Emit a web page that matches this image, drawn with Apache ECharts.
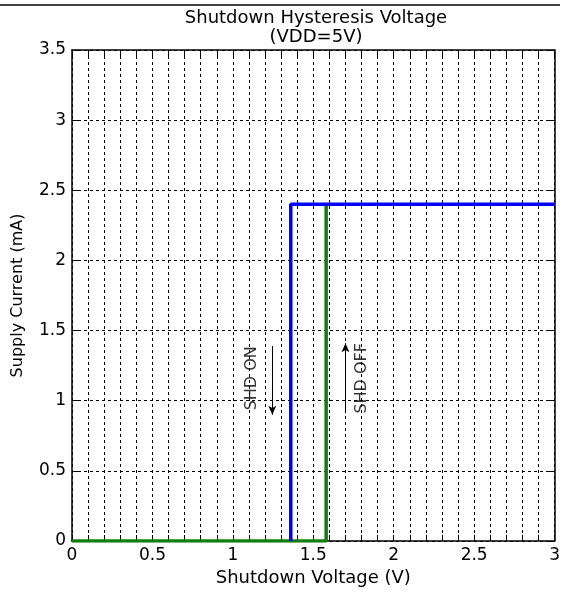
<!DOCTYPE html>
<html>
<head>
<meta charset="utf-8">
<script src="https://cdn.jsdelivr.net/npm/echarts@6/dist/echarts.min.js"></script>
<style>
  html, body { margin: 0; padding: 0; background: #fff; }
  #chart { width: 563px; height: 592px; }
</style>
</head>
<body>
<div id="chart"></div>
<script>
// values
const shdOnX = [1.36, 1.36, 3.0];
const shdOnY = [0, 2.4, 2.4];
const shdOffX = [0, 1.58, 1.58];
const shdOffY = [0, 0, 2.4];
const noteText = ['SHD ON', 'SHD OFF'];
const noteX = [1.12, 1.80];
const noteY = [1.16, 1.16];

const FONT = 'DejaVu Sans';
const dashed = { color: '#000', width: 1, type: [3, 3] };

function pairs(xs, ys) {
    return xs.map((x, i) => [x, ys[i]]);
}

let chart = echarts.init(document.getElementById('chart'), null, { renderer: 'canvas' });

let xBase = {
    type: 'value', min: 0, max: 3, interval: 0.5,
    axisLine: { show: true, onZero: false, lineStyle: { color: '#000', width: 1.5 } },
    axisTick: { show: true, inside: true, length: 6, lineStyle: { color: '#000' } },
    minorTick: { show: true, splitNumber: 5, length: 6, lineStyle: { color: '#000' } }
};
let yBase = {
    type: 'value', min: 0, max: 3.5, interval: 0.5,
    axisLine: { show: true, onZero: false, lineStyle: { color: '#000', width: 1.5 } },
    axisTick: { show: true, inside: true, length: 6, lineStyle: { color: '#000' } }
};

let option = {
    animation: false,
    backgroundColor: '#fff',
    title: {
        text: 'Shutdown Hysteresis Voltage\n(VDD=5V)',
        left: 311, top: 4, textAlign: 'center',
        textStyle: { fontFamily: FONT, fontSize: 18, fontWeight: 'normal', color: '#000', lineHeight: 19 }
    },
    grid: { left: 72, right: 6, top: 50, bottom: 48 },
    xAxis: [
        Object.assign({}, xBase, {
            position: 'bottom',
            name: 'Shutdown Voltage (V)', nameLocation: 'middle', nameGap: 28,
            nameTextStyle: { fontFamily: FONT, fontSize: 18, color: '#000' },
            axisLabel: { fontFamily: FONT, fontSize: 17, color: '#000', margin: 6 },
            splitLine: { show: true, lineStyle: dashed },
            minorSplitLine: { show: true, lineStyle: dashed }
        }),
        Object.assign({}, xBase, {
            position: 'top',
            axisLabel: { show: false },
            splitLine: { show: false }
        })
    ],
    yAxis: [
        Object.assign({}, yBase, {
            position: 'left',
            name: 'Supply Current (mA)', nameLocation: 'middle', nameGap: 46,
            nameTextStyle: { fontFamily: FONT, fontSize: 16, color: '#000' },
            axisLabel: { fontFamily: FONT, fontSize: 17, color: '#000', margin: 6 },
            splitLine: { show: true, lineStyle: dashed }
        }),
        Object.assign({}, yBase, {
            position: 'right',
            axisLabel: { show: false },
            splitLine: { show: false }
        })
    ],
    graphic: [
        { type: 'line', shape: { x1: 0, y1: 5, x2: 560, y2: 5 }, style: { stroke: '#000', lineWidth: 1.5 } }
    ],
    series: [
        {
            name: 'SHD OFF', type: 'line', data: pairs(shdOffX, shdOffY),
            showSymbol: false, z: 3,
            lineStyle: { color: '#107f10', width: 3.5 }
        },
        {
            name: 'SHD ON', type: 'line', data: pairs(shdOnX, shdOnY),
            showSymbol: false, z: 4,
            lineStyle: { color: '#0000ff', width: 3.5 },
            markLine: {
                silent: true, symbol: ['none', 'arrow'], symbolSize: [6, 9],
                label: { show: false },
                lineStyle: { color: '#000', width: 1, type: 'solid' },
                data: [
                    [{ coord: [1.245, 1.39] }, { coord: [1.245, 0.9] }],
                    [{ coord: [1.70, 0.92] }, { coord: [1.70, 1.41] }]
                ]
            }
        },
        {
            type: 'scatter', symbolSize: 0, silent: true,
            data: noteText.map((t, i) => [noteX[i], noteY[i], t]),
            label: {
                show: true, position: 'inside', rotate: 90,
                formatter: p => p.value[2],
                fontFamily: FONT, fontSize: 16, color: '#000'
            }
        }
    ]
};

chart.setOption(option);
</script>
</body>
</html>
